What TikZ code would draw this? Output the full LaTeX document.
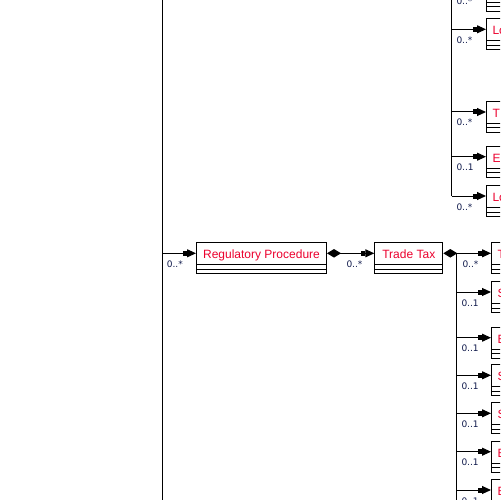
\documentclass[tikz,border=0pt]{standalone}
\usepackage{fontspec}
\setmainfont{Liberation Sans}
\newfontfamily\multfont{DejaVu Sans}
\usetikzlibrary{arrows.meta,calc}
\definecolor{clsred}{RGB}{235,0,45}
\definecolor{multc}{RGB}{15,25,75}
\begin{document}
\begin{tikzpicture}[x=1bp,y=-1bp,
  cls/.style={draw, line width=1bp, rectangle, anchor=north west, inner ysep=0pt,
    text height=16bp, text depth=15bp, font=\fontsize{12bp}{14bp}\selectfont, text=clsred,
    path picture={
      \draw[line width=1bp] ([yshift=9bp]path picture bounding box.south west) -- ([yshift=9bp]path picture bounding box.south east);
      \draw[line width=1bp] ([yshift=4.5bp]path picture bounding box.south west) -- ([yshift=4.5bp]path picture bounding box.south east);}},
  rcls/.style={cls, text width=100bp, inner xsep=6bp, align=left},
  conn/.style={line width=1bp, -{Rectangle[length=4.5bp,width=5bp]Triangle[length=9bp,width=8bp]}},
  comp/.style={line width=1bp, {Diamond[length=14bp,width=8.5bp]}-{Rectangle[length=4.5bp,width=5bp]Triangle[length=9bp,width=8bp]}},
  bus/.style={line width=1bp},
  mult/.style={font=\multfont\fontsize{9bp}{11bp}\selectfont, text=multc, anchor=base west, inner sep=0pt},
]
\useasboundingbox (0,0) rectangle (500,500);
\clip (0,0) rectangle (500,500);

% main classes
\node[cls, minimum width=130bp] (rp) at (196,242.3) {Regulatory Procedure};
\node[cls, minimum width=68bp] (tt) at (374.3,242.3) {Trade Tax};

% upper right classes
\node[rcls] (u0) at (486,-20) {};
\node[rcls] (u1) at (486,18.3) {Lo};
\node[rcls] (u2) at (486,101) {T};
\node[rcls] (u3) at (486,145.7) {En};
\node[rcls] (u4) at (486,185) {Lo};

% lower right classes
\node[rcls] (l0) at (491,242.3) {T};
\node[rcls] (l1) at (491,281) {S};
\node[rcls] (l2) at (491,326.7) {B};
\node[rcls] (l3) at (491,364.3) {S};
\node[rcls] (l4) at (491,402.3) {S};
\node[rcls] (l5) at (491,440.7) {B};
\node[rcls] (l6) at (491,479) {B};

% ports
\foreach \n in {rp,tt,u0,u1,u2,u3,u4,l0,l1,l2,l3,l4,l5,l6}
  \coordinate (\n P) at ([yshift=-11bp]\n.north west);

% left bus
\coordinate (lbt) at (162.3,0);
\coordinate (lbb) at (162.3,500);
\draw[bus] (lbt) -- (lbb);
\draw[conn] (rpP -| lbt) -- (rpP) node[mult, pos=0, xshift=4bp, yshift=-14bp] {0..*};

% regulatory procedure -> trade tax
\draw[comp] (ttP -| rp.east) -- (ttP) node[mult, pos=0, xshift=19bp, yshift=-14bp] {0..*};

% trade tax -> lower bus
\coordinate (rbb) at (456.5,500);
\draw[comp] (l0P -| tt.east) -- (l0P) node[mult, pos=0, xshift=18.7bp, yshift=-14bp] {0..*};
\draw[bus] (l0P -| rbb) -- (rbb);
\foreach \n in {l1,l2,l3,l4,l5,l6}
  \draw[conn] (\n P -| rbb) -- (\n P) node[mult, pos=0, xshift=4.5bp, yshift=-14bp] {0..1};

% upper bus
\coordinate (ubt) at (451.5,-30);
\draw[bus] (ubt) -- (u4P -| ubt);
\foreach \n/\m in {u0/{0..*},u1/{0..*},u2/{0..*},u3/{0..1},u4/{0..*}}
  \draw[conn] (\n P -| ubt) -- (\n P) node[mult, pos=0, xshift=4.5bp, yshift=-14bp] {\m};
\end{tikzpicture}
\end{document}
